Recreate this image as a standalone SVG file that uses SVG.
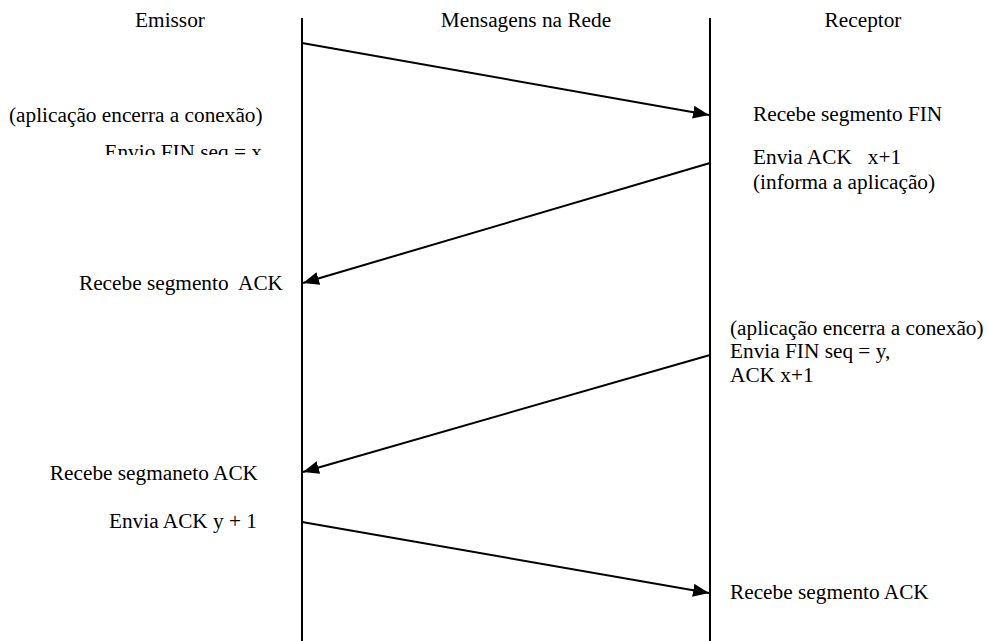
<svg xmlns="http://www.w3.org/2000/svg" width="988" height="641" viewBox="0 0 988 641" font-family="'Liberation Serif', 'DejaVu Serif', serif">
  <style>
    text { font-family: 'Liberation Serif', 'Times New Roman', 'DejaVu Serif', serif; font-size: 21.3px; fill: #000; white-space: pre; }
    .life { stroke: #000; stroke-width: 2; }
    .msg { stroke: #000; stroke-width: 2; fill: none; marker-end: url(#arrow); }
  </style>
  <defs>
    <marker id="arrow" viewBox="0 0 16 13" refX="16" refY="6.5" markerWidth="16" markerHeight="13" markerUnits="userSpaceOnUse" orient="auto">
      <path d="M0,0 L16,6.5 L0,13 z" fill="#000"/>
    </marker>
    <clipPath id="cutLine">
      <rect x="0" y="130" width="300" height="25"/>
    </clipPath>
  </defs>

  <g id="headers">
    <text x="170" y="27" text-anchor="middle">Emissor</text>
    <text x="526" y="27" text-anchor="middle">Mensagens na Rede</text>
    <text x="863" y="27" text-anchor="middle">Receptor</text>
  </g>

  <g id="lifeline-emissor">
    <line class="life" x1="302" y1="18" x2="302" y2="641"/>
  </g>
  <g id="lifeline-receptor">
    <line class="life" x1="710" y1="18" x2="710" y2="641"/>
  </g>

  <g id="connectors">
    <line class="msg" x1="302" y1="43" x2="709" y2="115"/>
    <line class="msg" x1="710" y1="163" x2="303" y2="283"/>
    <line class="msg" x1="710" y1="355" x2="303" y2="472"/>
    <line class="msg" x1="302" y1="522" x2="709" y2="593"/>
  </g>

  <g id="emissor-notes">
    <text x="9" y="122">(aplicação encerra a conexão)</text>
    <text x="262" y="159" text-anchor="end" clip-path="url(#cutLine)">Envio FIN seq = x</text>
    <text x="283" y="290" text-anchor="end">Recebe segmento  ACK</text>
    <text x="258" y="480" text-anchor="end">Recebe segmaneto ACK</text>
    <text x="257" y="528" text-anchor="end">Envia ACK y + 1</text>
  </g>

  <g id="receptor-notes">
    <text x="753" y="121">Recebe segmento FIN</text>
    <text x="753" y="164">Envia ACK   x+1</text>
    <text x="753" y="189">(informa a aplicação)</text>
    <text x="730" y="335">(aplicação encerra a conexão)</text>
    <text x="730" y="358">Envia FIN seq = y,</text>
    <text x="730" y="382">ACK x+1</text>
    <text x="730" y="599">Recebe segmento ACK</text>
  </g>
</svg>
